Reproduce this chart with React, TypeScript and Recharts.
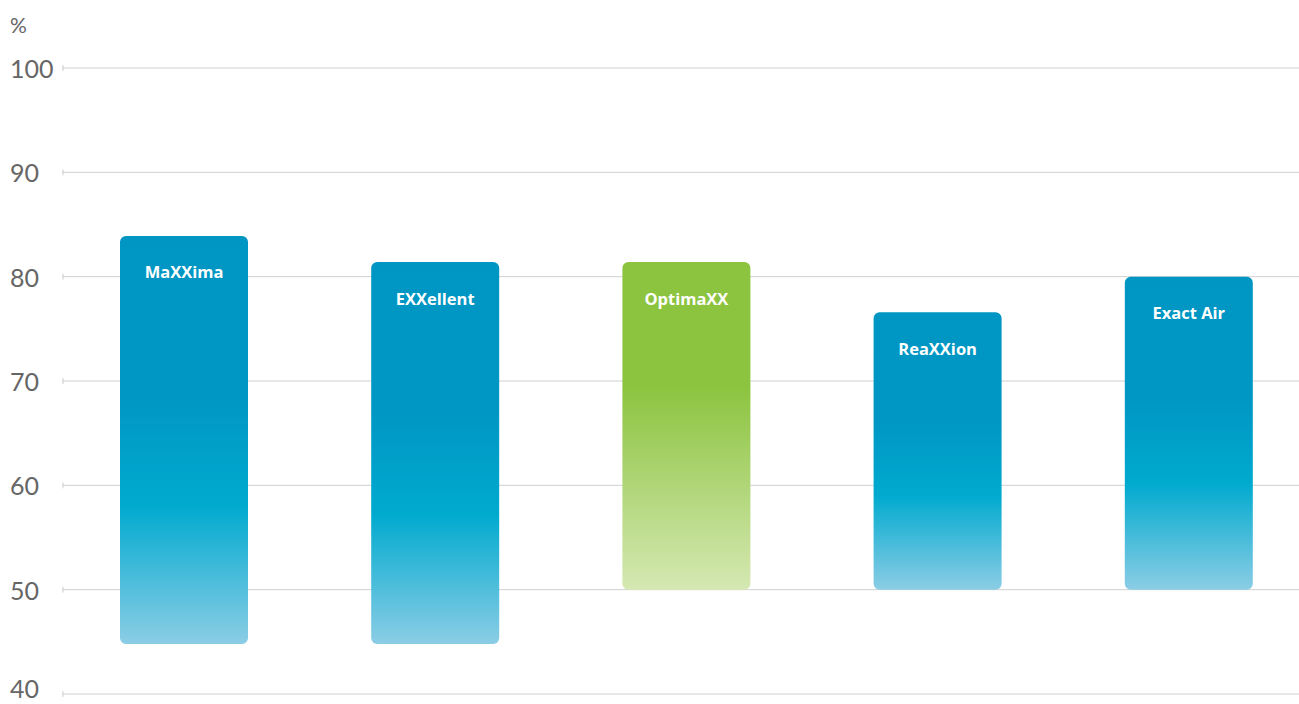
import React from 'react';
import { Bar, BarChart, CartesianGrid, Cell, LabelList, XAxis, YAxis } from 'recharts';

// Product names and their low/high percentage ranges
const products = ['MaXXima', 'EXXellent', 'OptimaXX', 'ReaXXion', 'Exact Air'];
const lowValues = [44.8, 44.8, 50, 50, 50];
const highValues = [83.9, 81.4, 81.4, 76.6, 80];
const yTicks = [40, 50, 60, 70, 80, 90, 100];

const data = products.map((name, i) => ({
  name,
  range: [lowValues[i], highValues[i]],
}));

const YTick = (props: any) => {
  const { y, payload } = props;
  // bottom label sits on the window edge, lift it a little so it stays whole
  const ty = y > 690 ? y - 6 : y;
  return (
    <g>
      <line x1={63} x2={63} y1={y - 3} y2={y + 3} stroke="#d0d0d0" strokeWidth={1} />
      <text
        x={10}
        y={ty}
        textAnchor="start"
        dominantBaseline="central"
        fill="#666"
        fontSize={25}
        fontFamily="Lato, 'Open Sans', sans-serif"
      >
        {payload.value}
      </text>
    </g>
  );
};

const BarName = (props: any) => {
  const { x, y, width, value } = props;
  return (
    <text
      x={x + width / 2}
      y={y + 36}
      textAnchor="middle"
      dominantBaseline="central"
      fill="#fff"
      fontSize={16.5}
      fontWeight={700}
      fontFamily="'Open Sans', sans-serif"
    >
      {value}
    </text>
  );
};

export default function App() {
  return (
    <div style={{ position: 'absolute', left: 0, top: 0, width: 1299, height: 704, overflow: 'hidden', background: '#fff' }}>
      <div
        style={{
          position: 'absolute',
          left: 10,
          top: 12,
          fontSize: 21,
          color: '#666',
          fontFamily: "Lato, 'Open Sans', sans-serif",
        }}
      >
        %
      </div>
      <BarChart
        width={1314}
        height={704}
        data={data}
        margin={{ top: 68, right: 0, left: 0, bottom: 10 }}
      >
        <defs>
          <linearGradient id="blueGrad" x1="0" y1="0" x2="0" y2="1">
            <stop offset="0%" stopColor="#0096c3" />
            <stop offset="40%" stopColor="#0097c4" />
            <stop offset="66%" stopColor="#00aacf" />
            <stop offset="100%" stopColor="#8bcde5" />
          </linearGradient>
          <linearGradient id="greenGrad" x1="0" y1="0" x2="0" y2="1">
            <stop offset="0%" stopColor="#8cc43f" />
            <stop offset="38%" stopColor="#8cc43f" />
            <stop offset="100%" stopColor="#d5e8b2" />
          </linearGradient>
        </defs>
        <CartesianGrid vertical={false} stroke="#d0d0d0" strokeWidth={1} />
        <XAxis dataKey="name" hide padding={{ left: -4, right: 0 }} />
        <YAxis
          type="number"
          domain={[40, 100]}
          ticks={yTicks}
          width={62}
          axisLine={false}
          tickLine={false}
          tick={<YTick />}
          interval={0}
        />
        <Bar dataKey="range" barSize={128} radius={6} isAnimationActive={false}>
          {data.map((d) => (
            <Cell key={d.name} fill={d.name === 'OptimaXX' ? 'url(#greenGrad)' : 'url(#blueGrad)'} />
          ))}
          <LabelList dataKey="name" content={<BarName />} />
        </Bar>
      </BarChart>
    </div>
  );
}
